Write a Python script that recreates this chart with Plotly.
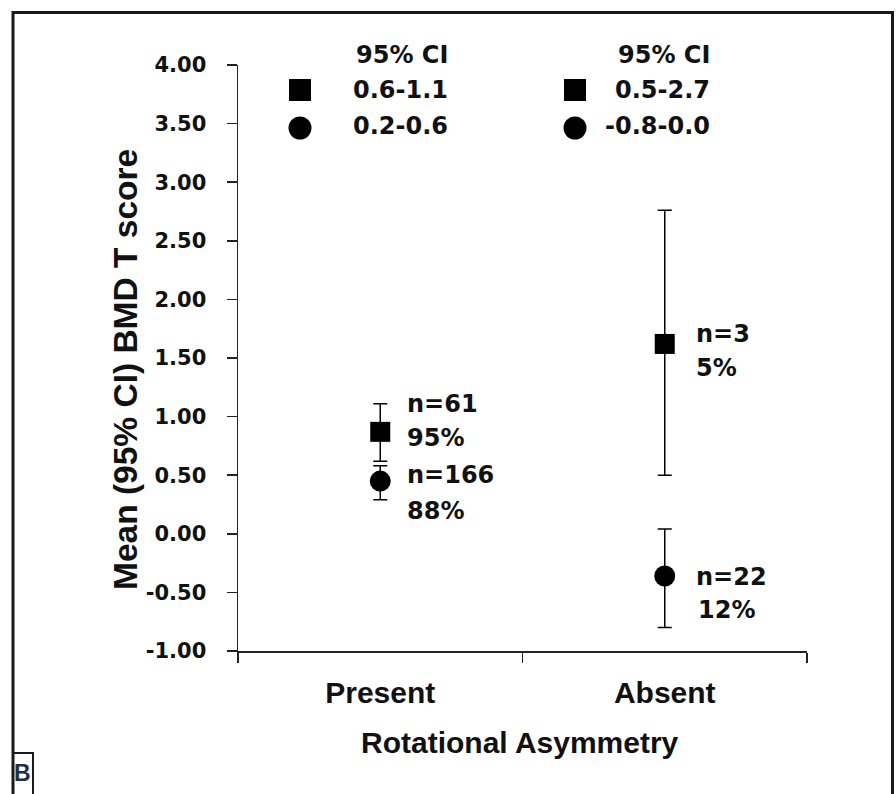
import plotly.graph_objects as go

# ---------------- data ----------------
categories = ["Present", "Absent"]

square_mean = [0.87, 1.62]
square_lo = [0.62, 0.50]
square_hi = [1.11, 2.76]

circle_mean = [0.45, -0.36]
circle_lo = [0.29, -0.80]
circle_hi = [0.58, 0.04]

ytick_vals = [-1.0, -0.5, 0.0, 0.5, 1.0, 1.5, 2.0, 2.5, 3.0, 3.5, 4.0]
ytick_text = ["%.2f" % v for v in ytick_vals]

ci_header = "95% CI"
square_ci_text = ["0.6-1.1", "0.5-2.7"]
circle_ci_text = ["0.2-0.6", "-0.8-0.0"]

square_n_text = ["n=61", "n=3"]
square_pct_text = ["95%", "5%"]
circle_n_text = ["n=166", "n=22"]
circle_pct_text = ["88%", "12%"]

y_title = "Mean (95% CI) BMD T score"
x_title = "Rotational Asymmetry"
panel_label = "B"

# ---------------- layout geometry (pixels) ----------------
W, H = 896, 794
L, R, T, B = 238, 807, 65, 651


def px(x):
    return (x - L) / (R - L)


def py(y):
    return (B - y) / (B - T)


BOLD_NUM = dict(family="DejaVu Sans", size=24, color="#111111", weight="bold")
BOLD_TXT = dict(family="Liberation Sans, Arial", size=30, color="#111111", weight="bold")

fig = go.Figure()

fig.add_trace(go.Scatter(
    x=categories, y=square_mean, mode="markers",
    marker=dict(symbol="square", size=20, color="black"),
    error_y=dict(type="data", symmetric=False,
                 array=[h - m for h, m in zip(square_hi, square_mean)],
                 arrayminus=[m - l for m, l in zip(square_mean, square_lo)],
                 color="black", thickness=1.5, width=7),
    showlegend=False, hoverinfo="skip"))

fig.add_trace(go.Scatter(
    x=categories, y=circle_mean, mode="markers",
    marker=dict(symbol="circle", size=21, color="black"),
    error_y=dict(type="data", symmetric=False,
                 array=[h - m for h, m in zip(circle_hi, circle_mean)],
                 arrayminus=[m - l for m, l in zip(circle_mean, circle_lo)],
                 color="black", thickness=1.5, width=7),
    showlegend=False, hoverinfo="skip"))

# legend-key markers on a pixel-space overlay axis
key_x = [300, 575]
fig.add_trace(go.Scatter(
    x=key_x, y=[90, 90], xaxis="x2", yaxis="y2", mode="markers",
    marker=dict(symbol="square", size=22, color="black"),
    showlegend=False, hoverinfo="skip", cliponaxis=False))
fig.add_trace(go.Scatter(
    x=key_x, y=[128, 128], xaxis="x2", yaxis="y2", mode="markers",
    marker=dict(symbol="circle", size=23, color="black"),
    showlegend=False, hoverinfo="skip", cliponaxis=False))

annotations = []


def add_text(text, x, y, xanchor="left", font=BOLD_NUM, **kw):
    annotations.append(dict(text=text, x=px(x), y=py(y), xref="paper", yref="paper",
                            xanchor=xanchor, yanchor="middle", showarrow=False,
                            font=font, **kw))


# CI legend texts (right aligned)
for xr, sq, ci in zip([450, 712], square_ci_text, circle_ci_text):
    add_text(ci_header, xr, 55, xanchor="right")
    add_text(sq, xr, 90, xanchor="right")
    add_text(ci, xr, 126, xanchor="right")

# n / percentage labels
add_text(square_n_text[0], 405, 404)
add_text(square_pct_text[0], 405, 438)
add_text(circle_n_text[0], 405, 475)
add_text(circle_pct_text[0], 405, 511)
add_text(square_n_text[1], 694, 334)
add_text(square_pct_text[1], 694, 368)
add_text(circle_n_text[1], 694, 577)
add_text(circle_pct_text[1], 696, 610)

# axis titles
add_text(y_title, 125, 370, xanchor="center",
         font=dict(family="Liberation Sans, Arial", size=33.5, color="#111111", weight="bold"),
         textangle=-90)
add_text(x_title, 520, 742, xanchor="center",
         font=dict(family="Liberation Sans, Arial", size=30, color="#111111", weight="bold"))

# panel label
add_text(panel_label, 22.5, 773, xanchor="center",
         font=dict(family="Liberation Sans, Arial", size=23, color="#1f2d4d", weight="bold"))

shapes = [
    # outer frame
    dict(type="line", xref="paper", yref="paper", x0=px(12), x1=px(893), y0=py(12.5), y1=py(12.5),
         line=dict(color="#1a1a1a", width=3)),
    dict(type="line", xref="paper", yref="paper", x0=px(13), x1=px(13), y0=py(11), y1=py(800),
         line=dict(color="#1a1a1a", width=3)),
    dict(type="line", xref="paper", yref="paper", x0=px(892.5), x1=px(892.5), y0=py(11), y1=py(800),
         line=dict(color="#1a1a1a", width=3)),
    # panel label box
    dict(type="rect", xref="paper", yref="paper", x0=px(13), x1=px(33), y0=py(753), y1=py(800),
         line=dict(color="#1a1a1a", width=2)),
]

fig.update_layout(
    width=W, height=H,
    margin=dict(l=L, r=W - R, t=T, b=H - B, pad=0),
    paper_bgcolor="white", plot_bgcolor="white",
    showlegend=False,
    annotations=annotations,
    shapes=shapes,
    xaxis=dict(type="category", categoryorder="array", categoryarray=categories,
               range=[-0.5, 1.5], tickson="boundaries", ticks="outside", ticklen=10,
               tickwidth=1.5, tickcolor="#222222",
               showline=True, linecolor="#222222", linewidth=1.5,
               showgrid=False, zeroline=False, tickfont=BOLD_TXT, ticklabelstandoff=14),
    yaxis=dict(range=[-1, 4], tickvals=ytick_vals, ticktext=ytick_text,
               ticks="outside", ticklen=10, tickwidth=1.5, tickcolor="#222222",
               showline=True, linecolor="#222222", linewidth=1.5,
               showgrid=False, zeroline=False,
               tickfont=dict(family="DejaVu Sans", size=21, color="#111111", weight="bold"),
               ticklabelstandoff=16),
    xaxis2=dict(overlaying="x", range=[L, R], visible=False, fixedrange=True),
    yaxis2=dict(overlaying="y", range=[B, T], visible=False, fixedrange=True),
)

fig.write_html(
    "out.html",
    config={"displayModeBar": False, "staticPlot": True},
    post_script="document.body.style.margin='0';document.body.style.overflow='hidden';",
)
